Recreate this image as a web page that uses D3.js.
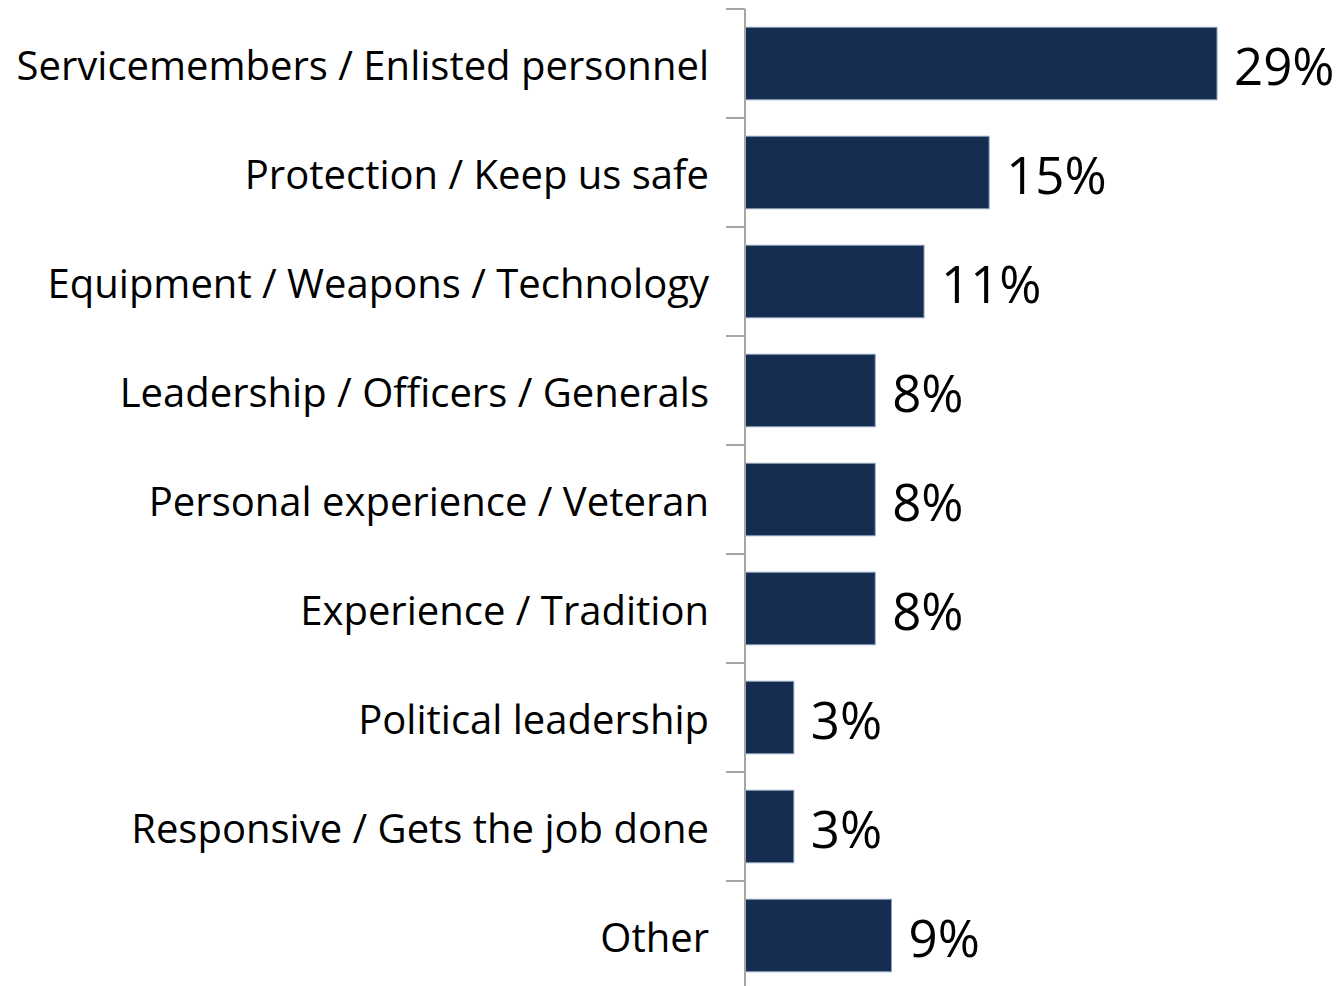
<!DOCTYPE html>
<html><head><meta charset="utf-8">
<script src="https://cdn.jsdelivr.net/npm/d3@7"></script>
<style>body{margin:0;background:#fff;} svg{display:block;}</style>
</head><body>
<svg id="chart" width="1340" height="986"></svg>
<script>
const categories = ["Servicemembers / Enlisted personnel","Protection / Keep us safe","Equipment / Weapons / Technology","Leadership / Officers / Generals","Personal experience / Veteran","Experience / Tradition","Political leadership","Responsive / Gets the job done","Other"];
const values = [29,15,11,8,8,8,3,3,9];
const valueLabels = ["29%","15%","11%","8%","8%","8%","3%","3%","9%"];

const svg = d3.select("#chart");
const fontFam = "'Open Sans','Noto Sans',sans-serif";
const x0 = 745;
const x = d3.scaleLinear().domain([0, 29]).range([x0, 1217]);
const y = d3.scaleBand().domain(categories).range([9, 990]).paddingInner(0.335).paddingOuter(0.1675);

// bars
svg.selectAll("rect.bar").data(categories).join("rect")
  .attr("class","bar")
  .attr("x", x(0))
  .attr("y", d => y(d))
  .attr("width", (d,i) => x(values[i]) - x(0))
  .attr("height", y.bandwidth())
  .attr("fill", "#142d50")
  .attr("stroke", "#8ea0bb").attr("stroke-width", 1);

// axis
const g = svg.append("g").attr("transform", `translate(${x0},0)`);
g.append("line").attr("x1",0).attr("x2",0).attr("y1",9).attr("y2",990).attr("stroke","#a6a6a6").attr("stroke-width",2);
const bounds = categories.map(c => y(c) - y.step()*y.paddingInner()/2);
g.selectAll("line.tick").data(bounds).join("line").attr("class","tick")
  .attr("x1",-19).attr("x2",0).attr("y1",d=>d).attr("y2",d=>d)
  .attr("stroke","#a6a6a6").attr("stroke-width",2);

// category labels
svg.selectAll("text.cat").data(categories).join("text")
  .attr("class","cat")
  .attr("x", 709)
  .attr("y", d => y(d) + y.bandwidth()/2)
  .attr("dy","0.42em")
  .attr("text-anchor","end")
  .attr("font-family", fontFam)
  .attr("font-size", 40)
  .attr("fill","#000")
  .text(d => d);

// value labels
svg.selectAll("text.val").data(categories).join("text")
  .attr("class","val")
  .attr("x", (d,i) => x(values[i]) + 17)
  .attr("y", d => y(d) + y.bandwidth()/2)
  .attr("dy","0.42em")
  .attr("font-family", fontFam)
  .attr("font-size", 51)
  .attr("fill","#000")
  .text((d,i) => valueLabels[i]);
</script>
</body></html>
